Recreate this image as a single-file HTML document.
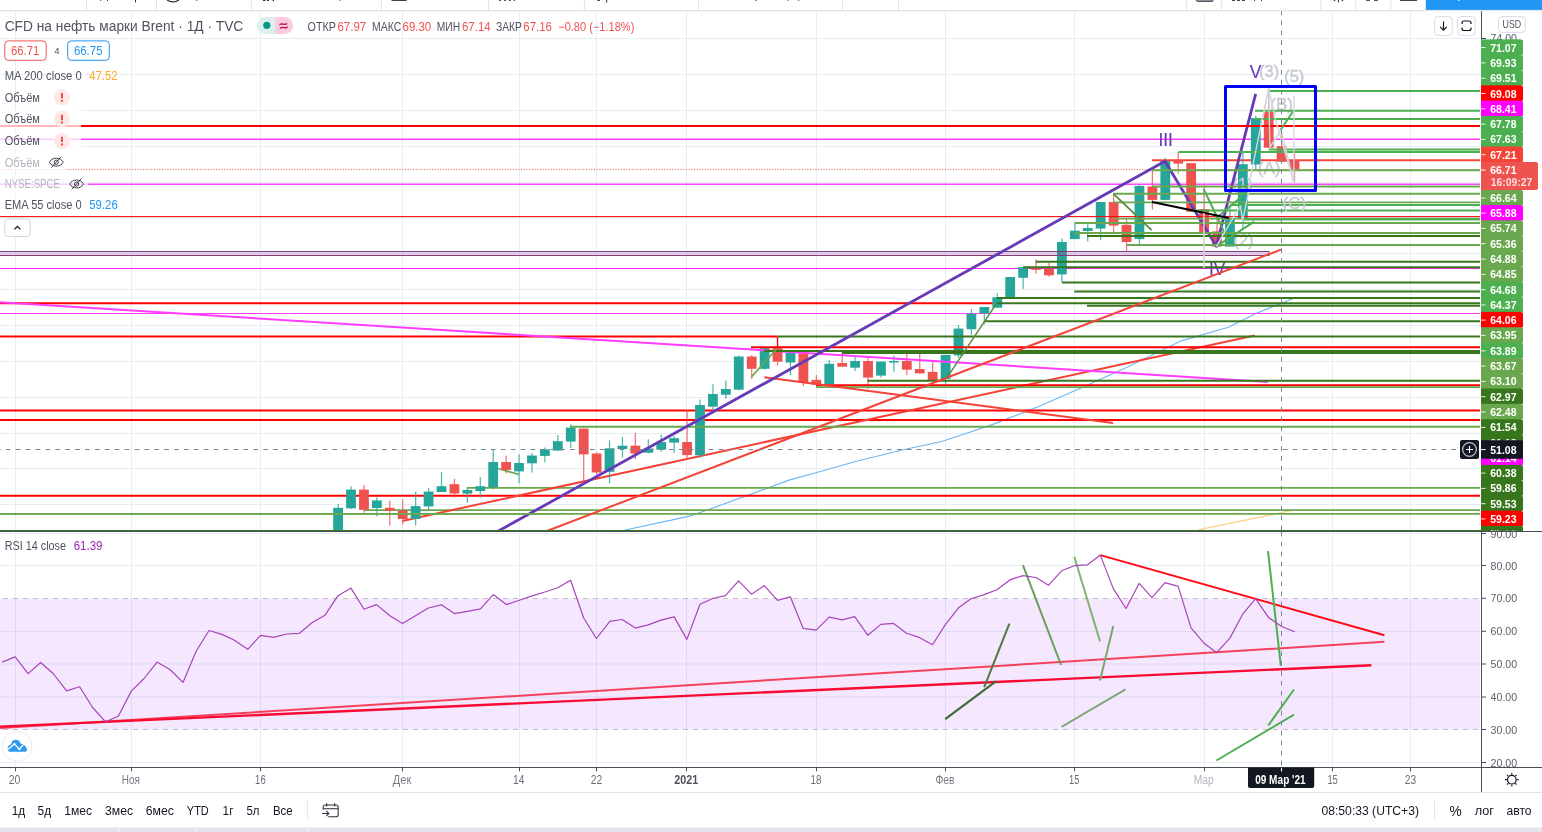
<!DOCTYPE html>
<html lang="ru"><head><meta charset="utf-8"><title>CFD на нефть марки Brent</title>
<style>html,body{margin:0;padding:0;background:#fff;overflow:hidden}body{width:1542px;height:832px}svg{display:block;position:absolute;left:0;top:0}text{white-space:pre}</style>
</head><body>
<svg width="1542" height="832" viewBox="0 0 1542 832" font-family='"Liberation Sans", "DejaVu Sans", sans-serif' shape-rendering="auto">
<defs><clipPath id="cm"><rect x="0" y="11" width="1480" height="520"/></clipPath><clipPath id="cr"><rect x="0" y="532" width="1480" height="235"/></clipPath><clipPath id="ca"><rect x="1481" y="11" width="61" height="520"/></clipPath></defs>
<rect x="0" y="0" width="1542" height="832" fill="#ffffff"/>
<g clip-path="url(#cm)">
<line x1="15.5" y1="11" x2="15.5" y2="531" stroke="#e6eef4" stroke-width="1"/>
<line x1="131.5" y1="11" x2="131.5" y2="531" stroke="#e6eef4" stroke-width="1"/>
<line x1="260.5" y1="11" x2="260.5" y2="531" stroke="#e6eef4" stroke-width="1"/>
<line x1="402.5" y1="11" x2="402.5" y2="531" stroke="#e6eef4" stroke-width="1"/>
<line x1="519.5" y1="11" x2="519.5" y2="531" stroke="#e6eef4" stroke-width="1"/>
<line x1="596.5" y1="11" x2="596.5" y2="531" stroke="#e6eef4" stroke-width="1"/>
<line x1="686.5" y1="11" x2="686.5" y2="531" stroke="#e6eef4" stroke-width="1"/>
<line x1="816.5" y1="11" x2="816.5" y2="531" stroke="#e6eef4" stroke-width="1"/>
<line x1="945.5" y1="11" x2="945.5" y2="531" stroke="#e6eef4" stroke-width="1"/>
<line x1="1074.5" y1="11" x2="1074.5" y2="531" stroke="#e6eef4" stroke-width="1"/>
<line x1="1204.5" y1="11" x2="1204.5" y2="531" stroke="#e6eef4" stroke-width="1"/>
<line x1="1332.5" y1="11" x2="1332.5" y2="531" stroke="#e6eef4" stroke-width="1"/>
<line x1="1410.5" y1="11" x2="1410.5" y2="531" stroke="#e6eef4" stroke-width="1"/>
<line x1="0" y1="38.5" x2="1480" y2="38.5" stroke="#e6eef4" stroke-width="1"/>
<line x1="0" y1="74.5" x2="1480" y2="74.5" stroke="#e6eef4" stroke-width="1"/>
<line x1="0" y1="110.5" x2="1480" y2="110.5" stroke="#e6eef4" stroke-width="1"/>
<line x1="0" y1="146.5" x2="1480" y2="146.5" stroke="#e6eef4" stroke-width="1"/>
<line x1="0" y1="182.5" x2="1480" y2="182.5" stroke="#e6eef4" stroke-width="1"/>
<line x1="0" y1="217.5" x2="1480" y2="217.5" stroke="#e6eef4" stroke-width="1"/>
<line x1="0" y1="253.5" x2="1480" y2="253.5" stroke="#e6eef4" stroke-width="1"/>
<line x1="0" y1="289.5" x2="1480" y2="289.5" stroke="#e6eef4" stroke-width="1"/>
<line x1="0" y1="325.5" x2="1480" y2="325.5" stroke="#e6eef4" stroke-width="1"/>
<line x1="0" y1="361.5" x2="1480" y2="361.5" stroke="#e6eef4" stroke-width="1"/>
<line x1="0" y1="397.5" x2="1480" y2="397.5" stroke="#e6eef4" stroke-width="1"/>
<line x1="0" y1="433.5" x2="1480" y2="433.5" stroke="#e6eef4" stroke-width="1"/>
<line x1="0" y1="468.5" x2="1480" y2="468.5" stroke="#e6eef4" stroke-width="1"/>
<line x1="0" y1="504.5" x2="1480" y2="504.5" stroke="#e6eef4" stroke-width="1"/>
<polyline points="622.9,530.5 688.6,516.3 703.8,511.3 789.8,479.9 816.8,472.5 857.3,461 904.5,449.5 941.6,441.5 965.2,433.7 992.2,424.6 1040,406 1090.5,383.8 1127.5,367 1181.3,340.8 1228.4,327.3 1255.3,313.8 1292.4,298.7" fill="none" stroke="#6cb8f5" stroke-width="1.2"/>
<polyline points="1198.1,529.9 1241.9,520.8 1294,510" fill="none" stroke="#ffcf8a" stroke-width="1.2"/>
<line x1="0" y1="169.5" x2="1480" y2="169.5" stroke="#ef5350" stroke-width="1" stroke-dasharray="1 1.7"/>
<line x1="1152" y1="160.2" x2="1480" y2="160.2" stroke="#f44336" stroke-width="2"/>
<line x1="0" y1="139.25" x2="1480" y2="139.25" stroke="#ff3cff" stroke-width="1.3"/>
<line x1="0" y1="184.25" x2="1480" y2="184.25" stroke="#ff48ff" stroke-width="1.5"/>
<line x1="0" y1="268.5" x2="1480" y2="268.5" stroke="#ff1cff" stroke-width="1.2"/>
<line x1="0" y1="303.3" x2="996.5" y2="303.3" stroke="#ff0000" stroke-width="2"/>
<line x1="0" y1="313.5" x2="1480" y2="313.5" stroke="#ff3cff" stroke-width="1.2"/>
<line x1="0" y1="336.6" x2="777.5" y2="336.6" stroke="#ff0000" stroke-width="2"/>
<line x1="0" y1="410.4" x2="1480" y2="410.4" stroke="#ff0000" stroke-width="2"/>
<line x1="0" y1="420" x2="1480" y2="420" stroke="#ff0000" stroke-width="2"/>
<line x1="0" y1="495.8" x2="1480" y2="495.8" stroke="#ff0000" stroke-width="2"/>
<line x1="467" y1="487.9" x2="1480" y2="487.9" stroke="#6aa84f" stroke-width="1.8"/>
<line x1="364" y1="510.2" x2="1480" y2="510.2" stroke="#6aa84f" stroke-width="1.8"/>
<line x1="402.3" y1="520.9" x2="1254.7" y2="335.4" stroke="#f44336" stroke-width="2"/>
<line x1="497.9" y1="468.5" x2="518.6" y2="474.4" stroke="#6aa84f" stroke-width="1.8"/>
<g>
<line x1="338.1" y1="504" x2="338.1" y2="531" stroke="#26a69a" stroke-width="1.25" stroke-opacity="0.8"/>
<rect x="333.2" y="507.8" width="9.8" height="23.2" fill="#26a69a"/>
<line x1="351.03" y1="486.2" x2="351.03" y2="509" stroke="#26a69a" stroke-width="1.25" stroke-opacity="0.8"/>
<rect x="346.13" y="489.6" width="9.8" height="18.7" fill="#26a69a"/>
<line x1="363.95" y1="485" x2="363.95" y2="512.8" stroke="#ef5350" stroke-width="1.25" stroke-opacity="0.8"/>
<rect x="359.05" y="489.6" width="9.8" height="20.2" fill="#ef5350"/>
<line x1="376.88" y1="497.2" x2="376.88" y2="516.6" stroke="#26a69a" stroke-width="1.25" stroke-opacity="0.8"/>
<rect x="371.98" y="500.4" width="9.8" height="7.6" fill="#26a69a"/>
<line x1="389.8" y1="500.5" x2="389.8" y2="525.5" stroke="#ef5350" stroke-width="1.25" stroke-opacity="0.8"/>
<rect x="384.9" y="507.8" width="9.8" height="2.9" fill="#ef5350"/>
<line x1="402.73" y1="499.4" x2="402.73" y2="524.7" stroke="#ef5350" stroke-width="1.25" stroke-opacity="0.8"/>
<rect x="397.83" y="510.5" width="9.8" height="8.5" fill="#ef5350"/>
<line x1="415.65" y1="491.6" x2="415.65" y2="525.5" stroke="#26a69a" stroke-width="1.25" stroke-opacity="0.8"/>
<rect x="410.75" y="506.1" width="9.8" height="12.7" fill="#26a69a"/>
<line x1="428.58" y1="487.9" x2="428.58" y2="509.8" stroke="#26a69a" stroke-width="1.25" stroke-opacity="0.8"/>
<rect x="423.68" y="491.6" width="9.8" height="14.8" fill="#26a69a"/>
<line x1="441.5" y1="472" x2="441.5" y2="492" stroke="#26a69a" stroke-width="1.25" stroke-opacity="0.8"/>
<rect x="436.6" y="486.2" width="9.8" height="5.8" fill="#26a69a"/>
<line x1="454.43" y1="478.8" x2="454.43" y2="497.7" stroke="#ef5350" stroke-width="1.25" stroke-opacity="0.8"/>
<rect x="449.53" y="484.2" width="9.8" height="9.3" fill="#ef5350"/>
<line x1="467.35" y1="487.6" x2="467.35" y2="502.7" stroke="#26a69a" stroke-width="1.25" stroke-opacity="0.8"/>
<rect x="462.45" y="490" width="9.8" height="3.6" fill="#26a69a"/>
<line x1="480.28" y1="477.1" x2="480.28" y2="497.7" stroke="#26a69a" stroke-width="1.25" stroke-opacity="0.8"/>
<rect x="475.38" y="486.2" width="9.8" height="4.8" fill="#26a69a"/>
<line x1="493.2" y1="449.6" x2="493.2" y2="489.2" stroke="#26a69a" stroke-width="1.25" stroke-opacity="0.8"/>
<rect x="488.3" y="462" width="9.8" height="25.2" fill="#26a69a"/>
<line x1="506.12" y1="455.5" x2="506.12" y2="473.2" stroke="#ef5350" stroke-width="1.25" stroke-opacity="0.8"/>
<rect x="501.23" y="462" width="9.8" height="7.9" fill="#ef5350"/>
<line x1="519.05" y1="454.3" x2="519.05" y2="483.3" stroke="#26a69a" stroke-width="1.25" stroke-opacity="0.8"/>
<rect x="514.15" y="463" width="9.8" height="8.4" fill="#26a69a"/>
<line x1="531.98" y1="453" x2="531.98" y2="472.4" stroke="#26a69a" stroke-width="1.25" stroke-opacity="0.8"/>
<rect x="527.08" y="455.5" width="9.8" height="7.8" fill="#26a69a"/>
<line x1="544.9" y1="447.4" x2="544.9" y2="462.6" stroke="#26a69a" stroke-width="1.25" stroke-opacity="0.8"/>
<rect x="540" y="449.3" width="9.8" height="6.6" fill="#26a69a"/>
<line x1="557.83" y1="435" x2="557.83" y2="450.6" stroke="#26a69a" stroke-width="1.25" stroke-opacity="0.8"/>
<rect x="552.93" y="441.2" width="9.8" height="9.4" fill="#26a69a"/>
<line x1="570.75" y1="424.2" x2="570.75" y2="448" stroke="#26a69a" stroke-width="1.25" stroke-opacity="0.8"/>
<rect x="565.85" y="427.6" width="9.8" height="14" fill="#26a69a"/>
<line x1="583.68" y1="428.6" x2="583.68" y2="481" stroke="#ef5350" stroke-width="1.25" stroke-opacity="0.8"/>
<rect x="578.78" y="428.6" width="9.8" height="25.8" fill="#ef5350"/>
<line x1="596.6" y1="452.4" x2="596.6" y2="474.6" stroke="#ef5350" stroke-width="1.25" stroke-opacity="0.8"/>
<rect x="591.7" y="453.5" width="9.8" height="19" fill="#ef5350"/>
<line x1="609.53" y1="440.4" x2="609.53" y2="483.3" stroke="#26a69a" stroke-width="1.25" stroke-opacity="0.8"/>
<rect x="604.63" y="448.3" width="9.8" height="23.5" fill="#26a69a"/>
<line x1="622.45" y1="437" x2="622.45" y2="457.8" stroke="#26a69a" stroke-width="1.25" stroke-opacity="0.8"/>
<rect x="617.55" y="445.7" width="9.8" height="3.3" fill="#26a69a"/>
<line x1="635.38" y1="432.8" x2="635.38" y2="459" stroke="#ef5350" stroke-width="1.25" stroke-opacity="0.8"/>
<rect x="630.48" y="445.7" width="9.8" height="7.9" fill="#ef5350"/>
<line x1="648.3" y1="439.3" x2="648.3" y2="453.6" stroke="#26a69a" stroke-width="1.25" stroke-opacity="0.8"/>
<rect x="643.4" y="448.4" width="9.8" height="4.3" fill="#26a69a"/>
<line x1="661.23" y1="434.5" x2="661.23" y2="451.7" stroke="#26a69a" stroke-width="1.25" stroke-opacity="0.8"/>
<rect x="656.33" y="442" width="9.8" height="7.7" fill="#26a69a"/>
<line x1="674.15" y1="435.9" x2="674.15" y2="452.7" stroke="#26a69a" stroke-width="1.25" stroke-opacity="0.8"/>
<rect x="669.25" y="438.2" width="9.8" height="4.4" fill="#26a69a"/>
<line x1="687.08" y1="410" x2="687.08" y2="459" stroke="#ef5350" stroke-width="1.25" stroke-opacity="0.8"/>
<rect x="682.18" y="442" width="9.8" height="13.1" fill="#ef5350"/>
<line x1="700" y1="399.5" x2="700" y2="457.8" stroke="#26a69a" stroke-width="1.25" stroke-opacity="0.8"/>
<rect x="695.1" y="405" width="9.8" height="50.3" fill="#26a69a"/>
<line x1="712.93" y1="384.3" x2="712.93" y2="410.6" stroke="#26a69a" stroke-width="1.25" stroke-opacity="0.8"/>
<rect x="708.03" y="394" width="9.8" height="12.7" fill="#26a69a"/>
<line x1="725.85" y1="380.6" x2="725.85" y2="398.8" stroke="#26a69a" stroke-width="1.25" stroke-opacity="0.8"/>
<rect x="720.95" y="389" width="9.8" height="5.7" fill="#26a69a"/>
<line x1="738.78" y1="355.6" x2="738.78" y2="390.4" stroke="#26a69a" stroke-width="1.25" stroke-opacity="0.8"/>
<rect x="733.88" y="356.5" width="9.8" height="33.2" fill="#26a69a"/>
<line x1="751.7" y1="355.3" x2="751.7" y2="378.9" stroke="#ef5350" stroke-width="1.25" stroke-opacity="0.8"/>
<rect x="746.8" y="356.5" width="9.8" height="12.3" fill="#ef5350"/>
<line x1="764.62" y1="348.2" x2="764.62" y2="369.8" stroke="#26a69a" stroke-width="1.25" stroke-opacity="0.8"/>
<rect x="759.73" y="348.2" width="9.8" height="20.6" fill="#26a69a"/>
<line x1="777.55" y1="336.7" x2="777.55" y2="365.7" stroke="#ef5350" stroke-width="1.25" stroke-opacity="0.8"/>
<rect x="772.65" y="348.2" width="9.8" height="13.5" fill="#ef5350"/>
<line x1="790.48" y1="352.8" x2="790.48" y2="375.2" stroke="#26a69a" stroke-width="1.25" stroke-opacity="0.8"/>
<rect x="785.58" y="352.8" width="9.8" height="9.7" fill="#26a69a"/>
<line x1="803.4" y1="353.4" x2="803.4" y2="386" stroke="#ef5350" stroke-width="1.25" stroke-opacity="0.8"/>
<rect x="798.5" y="353.4" width="9.8" height="29.1" fill="#ef5350"/>
<line x1="816.33" y1="375.1" x2="816.33" y2="384.5" stroke="#ef5350" stroke-width="1.25" stroke-opacity="0.8"/>
<rect x="811.43" y="379.9" width="9.8" height="4.6" fill="#ef5350"/>
<line x1="829.25" y1="360" x2="829.25" y2="384.4" stroke="#26a69a" stroke-width="1.25" stroke-opacity="0.8"/>
<rect x="824.35" y="363.8" width="9.8" height="20.6" fill="#26a69a"/>
<line x1="842.18" y1="352" x2="842.18" y2="366.7" stroke="#ef5350" stroke-width="1.25" stroke-opacity="0.8"/>
<rect x="837.28" y="363" width="9.8" height="3.7" fill="#ef5350"/>
<line x1="855.1" y1="357" x2="855.1" y2="370.9" stroke="#26a69a" stroke-width="1.25" stroke-opacity="0.8"/>
<rect x="850.2" y="361" width="9.8" height="6.7" fill="#26a69a"/>
<line x1="868.03" y1="356.6" x2="868.03" y2="389" stroke="#ef5350" stroke-width="1.25" stroke-opacity="0.8"/>
<rect x="863.13" y="361" width="9.8" height="16.6" fill="#ef5350"/>
<line x1="880.95" y1="361.6" x2="880.95" y2="377.6" stroke="#26a69a" stroke-width="1.25" stroke-opacity="0.8"/>
<rect x="876.05" y="361.6" width="9.8" height="14" fill="#26a69a"/>
<line x1="893.88" y1="355.4" x2="893.88" y2="371.7" stroke="#26a69a" stroke-width="1.25" stroke-opacity="0.8"/>
<rect x="888.98" y="361" width="9.8" height="1.5" fill="#26a69a"/>
<line x1="906.8" y1="353.2" x2="906.8" y2="375.1" stroke="#ef5350" stroke-width="1.25" stroke-opacity="0.8"/>
<rect x="901.9" y="361" width="9.8" height="8.7" fill="#ef5350"/>
<line x1="919.73" y1="353.2" x2="919.73" y2="373.4" stroke="#ef5350" stroke-width="1.25" stroke-opacity="0.8"/>
<rect x="914.83" y="369" width="9.8" height="4.4" fill="#ef5350"/>
<line x1="932.65" y1="361.3" x2="932.65" y2="380.2" stroke="#ef5350" stroke-width="1.25" stroke-opacity="0.8"/>
<rect x="927.75" y="371.9" width="9.8" height="8.3" fill="#ef5350"/>
<line x1="945.58" y1="354.9" x2="945.58" y2="384" stroke="#26a69a" stroke-width="1.25" stroke-opacity="0.8"/>
<rect x="940.68" y="354.9" width="9.8" height="24.1" fill="#26a69a"/>
<line x1="958.5" y1="325" x2="958.5" y2="357.9" stroke="#26a69a" stroke-width="1.25" stroke-opacity="0.8"/>
<rect x="953.6" y="328.6" width="9.8" height="26.8" fill="#26a69a"/>
<line x1="971.43" y1="309" x2="971.43" y2="334.6" stroke="#26a69a" stroke-width="1.25" stroke-opacity="0.8"/>
<rect x="966.53" y="313.7" width="9.8" height="15.5" fill="#26a69a"/>
<line x1="984.35" y1="307" x2="984.35" y2="324.2" stroke="#26a69a" stroke-width="1.25" stroke-opacity="0.8"/>
<rect x="979.45" y="307" width="9.8" height="6.4" fill="#26a69a"/>
<line x1="997.28" y1="293.2" x2="997.28" y2="307.7" stroke="#26a69a" stroke-width="1.25" stroke-opacity="0.8"/>
<rect x="992.38" y="297.2" width="9.8" height="10.5" fill="#26a69a"/>
<rect x="1005.3" y="277" width="9.8" height="20.2" fill="#26a69a"/>
<line x1="1023.13" y1="267.2" x2="1023.13" y2="289.1" stroke="#26a69a" stroke-width="1.25" stroke-opacity="0.8"/>
<rect x="1018.23" y="267.2" width="9.8" height="10.6" fill="#26a69a"/>
<line x1="1036.05" y1="259.3" x2="1036.05" y2="273.6" stroke="#ef5350" stroke-width="1.25" stroke-opacity="0.8"/>
<rect x="1031.15" y="268.2" width="9.8" height="1.7" fill="#ef5350"/>
<line x1="1048.97" y1="262.8" x2="1048.97" y2="276.6" stroke="#ef5350" stroke-width="1.25" stroke-opacity="0.8"/>
<rect x="1044.07" y="268.7" width="9.8" height="6.6" fill="#ef5350"/>
<line x1="1061.9" y1="238.6" x2="1061.9" y2="282.5" stroke="#26a69a" stroke-width="1.25" stroke-opacity="0.8"/>
<rect x="1057" y="242" width="9.8" height="32.4" fill="#26a69a"/>
<line x1="1074.83" y1="223.8" x2="1074.83" y2="239.1" stroke="#26a69a" stroke-width="1.25" stroke-opacity="0.8"/>
<rect x="1069.92" y="230.7" width="9.8" height="8.4" fill="#26a69a"/>
<line x1="1087.75" y1="224.3" x2="1087.75" y2="241.2" stroke="#26a69a" stroke-width="1.25" stroke-opacity="0.8"/>
<rect x="1082.85" y="228" width="9.8" height="3" fill="#26a69a"/>
<line x1="1100.68" y1="202" x2="1100.68" y2="240.3" stroke="#26a69a" stroke-width="1.25" stroke-opacity="0.8"/>
<rect x="1095.78" y="202" width="9.8" height="26.5" fill="#26a69a"/>
<line x1="1113.6" y1="193.6" x2="1113.6" y2="232.4" stroke="#ef5350" stroke-width="1.25" stroke-opacity="0.8"/>
<rect x="1108.7" y="202" width="9.8" height="23.6" fill="#ef5350"/>
<line x1="1126.53" y1="219.2" x2="1126.53" y2="251.3" stroke="#ef5350" stroke-width="1.25" stroke-opacity="0.8"/>
<rect x="1121.62" y="224.8" width="9.8" height="17.2" fill="#ef5350"/>
<line x1="1139.45" y1="184.7" x2="1139.45" y2="244.2" stroke="#26a69a" stroke-width="1.25" stroke-opacity="0.8"/>
<rect x="1134.55" y="185.9" width="9.8" height="53.2" fill="#26a69a"/>
<line x1="1152.38" y1="170.3" x2="1152.38" y2="209.6" stroke="#ef5350" stroke-width="1.25" stroke-opacity="0.8"/>
<rect x="1147.47" y="186.4" width="9.8" height="13.5" fill="#ef5350"/>
<line x1="1165.3" y1="157.7" x2="1165.3" y2="199.9" stroke="#26a69a" stroke-width="1.25" stroke-opacity="0.8"/>
<rect x="1160.4" y="161" width="9.8" height="38.9" fill="#26a69a"/>
<line x1="1178.22" y1="152.1" x2="1178.22" y2="173.7" stroke="#ef5350" stroke-width="1.25" stroke-opacity="0.8"/>
<rect x="1173.32" y="160.2" width="9.8" height="3.4" fill="#ef5350"/>
<rect x="1186.25" y="163.1" width="9.8" height="48.6" fill="#ef5350"/>
<line x1="1204.08" y1="184.7" x2="1204.08" y2="232.7" stroke="#ef5350" stroke-width="1.25" stroke-opacity="0.8"/>
<rect x="1199.17" y="209.1" width="9.8" height="23.6" fill="#ef5350"/>
<line x1="1217" y1="219.2" x2="1217" y2="246.6" stroke="#ef5350" stroke-width="1.25" stroke-opacity="0.8"/>
<rect x="1212.1" y="231.4" width="9.8" height="15.2" fill="#ef5350"/>
<line x1="1229.93" y1="204.9" x2="1229.93" y2="246.6" stroke="#26a69a" stroke-width="1.25" stroke-opacity="0.8"/>
<rect x="1225.03" y="219.2" width="9.8" height="27.4" fill="#26a69a"/>
<line x1="1242.85" y1="151" x2="1242.85" y2="228.5" stroke="#26a69a" stroke-width="1.25" stroke-opacity="0.8"/>
<rect x="1237.95" y="164.2" width="9.8" height="55" fill="#26a69a"/>
<line x1="1255.78" y1="116.1" x2="1255.78" y2="169.3" stroke="#26a69a" stroke-width="1.25" stroke-opacity="0.8"/>
<rect x="1250.88" y="118.1" width="9.8" height="46.4" fill="#26a69a"/>
<line x1="1268.7" y1="88.4" x2="1268.7" y2="147.7" stroke="#ef5350" stroke-width="1.25" stroke-opacity="0.8"/>
<rect x="1263.8" y="111.8" width="9.8" height="35.9" fill="#ef5350"/>
<line x1="1281.62" y1="134" x2="1281.62" y2="162.1" stroke="#ef5350" stroke-width="1.25" stroke-opacity="0.8"/>
<rect x="1276.72" y="146.2" width="9.8" height="15.6" fill="#ef5350"/>
<line x1="1294.55" y1="149.3" x2="1294.55" y2="183" stroke="#ef5350" stroke-width="1.25" stroke-opacity="0.8"/>
<rect x="1289.65" y="160" width="9.8" height="9.5" fill="#ef5350"/>
</g>
<line x1="0" y1="302.2" x2="1268" y2="382" stroke="#ff3cff" stroke-width="2"/>
<text x="1165.7" y="146.4" font-size="17.5" fill="#673ab7" text-anchor="middle" stroke="#673ab7" stroke-width="0.15">III</text>
<text x="1255.5" y="78.4" font-size="17.5" fill="#673ab7" text-anchor="middle" stroke="#673ab7" stroke-width="0.15">V</text>
<text x="1217.2" y="274.7" font-size="17.5" fill="#673ab7" text-anchor="middle" stroke="#673ab7" stroke-width="0.15">IV</text>
<text x="1269.2" y="76.9" font-size="16.5" fill="#c6c9d5" text-anchor="middle" stroke="#c6c9d5" stroke-width="0.4">(3)</text>
<text x="1294.3" y="82" font-size="16.5" fill="#c6c9d5" text-anchor="middle" stroke="#c6c9d5" stroke-width="0.4">(5)</text>
<text x="1281.7" y="110.3" font-size="17" fill="#c6c9d5" text-anchor="middle" stroke="#c6c9d5" stroke-width="0.4">(B)</text>
<text x="1269.2" y="174" font-size="17" fill="#c6c9d5" text-anchor="middle" stroke="#c6c9d5" stroke-width="0.4">(A)</text>
<text x="1242.5" y="190" font-size="16.5" fill="#c6c9d5" text-anchor="middle" stroke="#c6c9d5" stroke-width="0.4">(1)</text>
<text x="1243.5" y="245.9" font-size="16.5" fill="#c6c9d5" text-anchor="middle" stroke="#c6c9d5" stroke-width="0.4">(2)</text>
<polyline points="1164.6,161.5 1165,161.3 1216.3,246.2 1255.7,93.8" fill="none" stroke="#673ab7" stroke-width="2.8" stroke-linejoin="round"/>
<rect x="-2" y="251.5" width="1271" height="4" fill="#9c27b0" fill-opacity="0.22" stroke="#7f4073" stroke-width="1"/>
<line x1="0" y1="513.8" x2="1480" y2="513.8" stroke="#6aa84f" stroke-width="1.8"/>
<line x1="1269" y1="91" x2="1480" y2="91" stroke="#4caf50" stroke-width="2"/>
<line x1="1255" y1="110.8" x2="1480" y2="110.8" stroke="#4caf50" stroke-width="2"/>
<line x1="1255" y1="118.9" x2="1480" y2="118.9" stroke="#4caf50" stroke-width="2"/>
<line x1="1268.8" y1="149.4" x2="1480" y2="149.4" stroke="#4caf50" stroke-width="2"/>
<line x1="1178.3" y1="152" x2="1480" y2="152" stroke="#4caf50" stroke-width="2"/>
<line x1="0" y1="126" x2="1480" y2="126" stroke="#ff0000" stroke-width="2"/>
<line x1="1152" y1="170.2" x2="1480" y2="170.2" stroke="#6aa84f" stroke-width="2"/>
<line x1="1152" y1="186.5" x2="1480" y2="186.5" stroke="#6aa84f" stroke-width="2"/>
<line x1="1113.3" y1="193.7" x2="1480" y2="193.7" stroke="#6aa84f" stroke-width="2"/>
<line x1="1113.3" y1="202.3" x2="1480" y2="202.3" stroke="#6aa84f" stroke-width="1.8"/>
<line x1="1230" y1="204.9" x2="1480" y2="204.9" stroke="#4caf50" stroke-width="2"/>
<line x1="1190" y1="210.6" x2="1480" y2="210.6" stroke="#4caf50" stroke-width="2"/>
<line x1="0" y1="216.6" x2="1480" y2="216.6" stroke="#ff0000" stroke-width="1"/>
<line x1="1113" y1="218.7" x2="1480" y2="218.7" stroke="#6aa84f" stroke-width="1.8"/>
<line x1="1243" y1="219.6" x2="1480" y2="219.6" stroke="#4caf50" stroke-width="2"/>
<line x1="1074.5" y1="223.1" x2="1480" y2="223.1" stroke="#6aa84f" stroke-width="2"/>
<line x1="1074.5" y1="232.9" x2="1480" y2="232.9" stroke="#6aa84f" stroke-width="2"/>
<line x1="1087" y1="235.9" x2="1480" y2="235.9" stroke="#38761d" stroke-width="2"/>
<line x1="1126.7" y1="244.9" x2="1480" y2="244.9" stroke="#6aa84f" stroke-width="2"/>
<line x1="1035.7" y1="261.8" x2="1480" y2="261.8" stroke="#38761d" stroke-width="2"/>
<line x1="1023" y1="267.2" x2="1480" y2="267.2" stroke="#38761d" stroke-width="2"/>
<line x1="1062" y1="282.6" x2="1480" y2="282.6" stroke="#38761d" stroke-width="2"/>
<line x1="1074.3" y1="291.6" x2="1480" y2="291.6" stroke="#38761d" stroke-width="2"/>
<line x1="997" y1="297.9" x2="1480" y2="297.9" stroke="#38761d" stroke-width="2"/>
<line x1="996.5" y1="303.3" x2="1480" y2="303.3" stroke="#38761d" stroke-width="2"/>
<line x1="1087" y1="305.8" x2="1480" y2="305.8" stroke="#38761d" stroke-width="2"/>
<line x1="984.6" y1="321.3" x2="1480" y2="321.3" stroke="#38761d" stroke-width="2"/>
<line x1="777.5" y1="336.6" x2="1480" y2="336.6" stroke="#38761d" stroke-width="2"/>
<line x1="751" y1="347.3" x2="1480" y2="347.3" stroke="#ff0000" stroke-width="2"/>
<line x1="764" y1="350.9" x2="1480" y2="350.9" stroke="#38761d" stroke-width="2"/>
<line x1="842.1" y1="352.8" x2="1480" y2="352.8" stroke="#38761d" stroke-width="2.2"/>
<line x1="867.5" y1="380.8" x2="1480" y2="380.8" stroke="#38761d" stroke-width="2"/>
<line x1="816" y1="385.2" x2="1480" y2="385.2" stroke="#ff0000" stroke-width="2"/>
<line x1="816" y1="387.1" x2="1480" y2="387.1" stroke="#6aa84f" stroke-width="1.6"/>
<line x1="570" y1="426.8" x2="1480" y2="426.8" stroke="#6aa84f" stroke-width="2"/>
<line x1="547" y1="531" x2="1281" y2="249.6" stroke="#f44336" stroke-width="2"/>
<line x1="764.4" y1="377.2" x2="1113" y2="423" stroke="#f44336" stroke-width="2"/>
<line x1="751.4" y1="376.9" x2="776.7" y2="348.9" stroke="#6aa84f" stroke-width="1.6"/>
<line x1="777.5" y1="336.7" x2="777.5" y2="348.2" stroke="#ff0000" stroke-width="1.2"/>
<line x1="946.7" y1="378.1" x2="996.4" y2="303.6" stroke="#5b8c3a" stroke-width="1.5"/>
<line x1="1113.3" y1="193.6" x2="1151.6" y2="230.2" stroke="#5b8c3a" stroke-width="1.8"/>
<polyline points="1203.6,188.9 1218.2,219.2 1228.5,242" fill="none" stroke="#4caf50" stroke-width="2"/>
<line x1="1216.3" y1="246.4" x2="1254.2" y2="221.6" stroke="#4caf50" stroke-width="2"/>
<line x1="1216.3" y1="218.2" x2="1242.5" y2="195.8" stroke="#4caf50" stroke-width="2"/>
<line x1="1293.1" y1="111.3" x2="1280.5" y2="130" stroke="#4caf50" stroke-width="2"/>
<line x1="496.6" y1="532" x2="1165" y2="161.3" stroke="#673ab7" stroke-width="2.8"/>
<line x1="0" y1="513.8" x2="560" y2="513.8" stroke="#6aa84f" stroke-width="1.8"/>
<line x1="1152.1" y1="202" x2="1228.8" y2="217.9" stroke="#000000" stroke-width="2"/>
<line x1="1203.9" y1="213" x2="1203.9" y2="268" stroke="#d3d6de" stroke-width="1.5"/>
<polyline points="1216.3,246.4 1235.7,213.3 1240.6,206 1242.5,221.1 1248.4,193 1250.3,178.4 1262,120 1268.6,88.4 1275.6,120 1294.1,183.2" fill="none" stroke="#d3d6de" stroke-width="1.4" stroke-linejoin="round"/>
<polyline points="1263,118 1268.6,88.4 1270,147 1281,130 1294,183" fill="none" stroke="#d3d6de" stroke-width="1.4" stroke-linejoin="round"/>
<line x1="1293.9" y1="95.7" x2="1293.9" y2="183.2" stroke="#d3d6de" stroke-width="1.3"/>
<line x1="-4.06" y1="449.5" x2="1460" y2="449.5" stroke="#758696" stroke-width="1" stroke-dasharray="4.7 5.2"/>
<line x1="1281.5" y1="10.6" x2="1281.5" y2="531" stroke="#758696" stroke-width="1" stroke-dasharray="4.7 5.2"/>
<text x="1294.3" y="209" font-size="17" fill="#c6c9d5" text-anchor="middle" stroke="#c6c9d5" stroke-width="0.4">(C)</text>
<rect x="1225.5" y="86.4" width="90" height="104" fill="none" stroke="#0000ff" stroke-width="3" stroke-linejoin="round"/>
</g>
<line x1="0" y1="530.5" x2="1481" y2="530.5" stroke="#38761d" stroke-width="1"/>
<line x1="0" y1="531.5" x2="1542" y2="531.5" stroke="#4a4e5a" stroke-width="1"/>
<g clip-path="url(#cr)">
<rect x="0" y="598.5" width="1481" height="131" fill="#f4e7fe"/>
<line x1="15.5" y1="532" x2="15.5" y2="767" stroke="#e6eef4" stroke-width="1"/>
<line x1="131.5" y1="532" x2="131.5" y2="767" stroke="#e6eef4" stroke-width="1"/>
<line x1="260.5" y1="532" x2="260.5" y2="767" stroke="#e6eef4" stroke-width="1"/>
<line x1="402.5" y1="532" x2="402.5" y2="767" stroke="#e6eef4" stroke-width="1"/>
<line x1="519.5" y1="532" x2="519.5" y2="767" stroke="#e6eef4" stroke-width="1"/>
<line x1="596.5" y1="532" x2="596.5" y2="767" stroke="#e6eef4" stroke-width="1"/>
<line x1="686.5" y1="532" x2="686.5" y2="767" stroke="#e6eef4" stroke-width="1"/>
<line x1="816.5" y1="532" x2="816.5" y2="767" stroke="#e6eef4" stroke-width="1"/>
<line x1="945.5" y1="532" x2="945.5" y2="767" stroke="#e6eef4" stroke-width="1"/>
<line x1="1074.5" y1="532" x2="1074.5" y2="767" stroke="#e6eef4" stroke-width="1"/>
<line x1="1204.5" y1="532" x2="1204.5" y2="767" stroke="#e6eef4" stroke-width="1"/>
<line x1="1332.5" y1="532" x2="1332.5" y2="767" stroke="#e6eef4" stroke-width="1"/>
<line x1="1410.5" y1="532" x2="1410.5" y2="767" stroke="#e6eef4" stroke-width="1"/>
<line x1="0" y1="533.5" x2="1480" y2="533.5" stroke="#e6eef4" stroke-width="1"/>
<line x1="0" y1="565.5" x2="1480" y2="565.5" stroke="#e6eef4" stroke-width="1"/>
<line x1="0" y1="631.5" x2="1480" y2="631.5" stroke="#dcd8f5" stroke-width="1"/>
<line x1="0" y1="664" x2="1480" y2="664" stroke="#dcd8f5" stroke-width="1"/>
<line x1="0" y1="697" x2="1480" y2="697" stroke="#dcd8f5" stroke-width="1"/>
<line x1="0" y1="762.5" x2="1480" y2="762.5" stroke="#e6eef4" stroke-width="1"/>
<line x1="15.5" y1="598.5" x2="15.5" y2="729.5" stroke="#dcd8f5" stroke-width="1"/>
<line x1="131.5" y1="598.5" x2="131.5" y2="729.5" stroke="#dcd8f5" stroke-width="1"/>
<line x1="260.5" y1="598.5" x2="260.5" y2="729.5" stroke="#dcd8f5" stroke-width="1"/>
<line x1="402.5" y1="598.5" x2="402.5" y2="729.5" stroke="#dcd8f5" stroke-width="1"/>
<line x1="519.5" y1="598.5" x2="519.5" y2="729.5" stroke="#dcd8f5" stroke-width="1"/>
<line x1="596.5" y1="598.5" x2="596.5" y2="729.5" stroke="#dcd8f5" stroke-width="1"/>
<line x1="686.5" y1="598.5" x2="686.5" y2="729.5" stroke="#dcd8f5" stroke-width="1"/>
<line x1="816.5" y1="598.5" x2="816.5" y2="729.5" stroke="#dcd8f5" stroke-width="1"/>
<line x1="945.5" y1="598.5" x2="945.5" y2="729.5" stroke="#dcd8f5" stroke-width="1"/>
<line x1="1074.5" y1="598.5" x2="1074.5" y2="729.5" stroke="#dcd8f5" stroke-width="1"/>
<line x1="1204.5" y1="598.5" x2="1204.5" y2="729.5" stroke="#dcd8f5" stroke-width="1"/>
<line x1="1332.5" y1="598.5" x2="1332.5" y2="729.5" stroke="#dcd8f5" stroke-width="1"/>
<line x1="1410.5" y1="598.5" x2="1410.5" y2="729.5" stroke="#dcd8f5" stroke-width="1"/>
<line x1="-7.1" y1="598.5" x2="1481" y2="598.5" stroke="#c3bcc9" stroke-width="1" stroke-dasharray="5 5"/>
<line x1="-7.1" y1="729.5" x2="1481" y2="729.5" stroke="#c3bcc9" stroke-width="1" stroke-dasharray="5 5"/>
<line x1="0" y1="728.1" x2="1384.4" y2="641.8" stroke="#f4425a" stroke-width="2"/>
<line x1="0" y1="726.6" x2="1371.4" y2="665.2" stroke="#f80a32" stroke-width="2.4"/>
<line x1="1100.3" y1="555.1" x2="1384.4" y2="635.3" stroke="#ff0a14" stroke-width="2"/>
<line x1="945.2" y1="719.1" x2="996.2" y2="681.1" stroke="#3f6d38" stroke-width="2.2"/>
<line x1="984.2" y1="687.1" x2="1009.4" y2="623.7" stroke="#4d7a45" stroke-width="2"/>
<line x1="1022.9" y1="565.2" x2="1061.1" y2="665" stroke="#6a9f5a" stroke-width="2"/>
<line x1="1074.3" y1="556.8" x2="1100" y2="641.4" stroke="#7fb56e" stroke-width="2"/>
<line x1="1113.3" y1="626.1" x2="1100" y2="680.6" stroke="#7aa86c" stroke-width="2"/>
<line x1="1061.6" y1="726.8" x2="1125.5" y2="689.3" stroke="#82a87a" stroke-width="2"/>
<line x1="1268" y1="551.1" x2="1280.8" y2="665.7" stroke="#4caf50" stroke-width="2"/>
<line x1="1268.3" y1="725.4" x2="1294" y2="689.5" stroke="#4caf50" stroke-width="2"/>
<line x1="1216.4" y1="760.5" x2="1294" y2="714.6" stroke="#4caf50" stroke-width="2"/>
<polyline points="2.2,662.1 15.1,656.9 28.1,673.6 40.7,662.5 53.6,674 66.6,690.9 79.6,686.8 92.6,707.5 105.6,721.8 118.3,716.2 131.3,691.1 144.1,678.5 157,662.1 170.2,669.7 183,682.4 196,651.5 209,630.5 221.9,634.4 234,640 247.7,649.3 260.6,635.3 273.6,637.4 286.6,634 299.4,633.3 312.7,622.3 325,615.2 338,595.7 351,588.1 364,609.3 376.5,604.6 389.9,615.8 402.5,623.6 415.5,615.8 428.4,608 441.4,604.8 454.4,613.6 467.4,611.3 480.4,608.9 493.3,594.6 506.3,604.6 519.3,600.2 532.3,595.9 544.8,592 557.8,587.7 570.6,580.3 583.7,618 596.4,638.5 609.8,621.4 622.2,619.5 635.4,628.1 648.1,624.9 661.1,620.1 674.1,616.9 686.9,639.4 700,604.3 712.6,598.5 725.4,595.7 738.6,580.8 751.5,594.2 764.3,585.7 777.5,600.4 790.3,596.8 803.2,628.4 816.2,630.1 829.2,617.1 842.2,619.9 854.7,616.7 867.9,635.3 880.8,624.4 893.6,623.4 906.5,633.3 919.3,637.4 932.5,644.8 945.7,624.1 958.5,607.8 971,598.7 984.2,594.6 996.9,589.8 1009.9,579.9 1022.9,575.6 1035.9,577.5 1048.6,585.2 1061.6,570.8 1074.3,565.7 1087.5,564.8 1100.3,555.1 1113.3,588.6 1126,608.5 1139.2,583.3 1152,597.7 1165,582.6 1178.2,586.4 1191,627.9 1204.2,643.3 1216.6,652.7 1229.9,638.1 1242.9,613.8 1255.6,598.6 1268.6,617.6 1281.6,626.5 1294.6,631.7" fill="none" stroke="#a845ba" stroke-width="1.2" stroke-linejoin="round"/>
<line x1="1281.5" y1="531.7" x2="1281.5" y2="767" stroke="#758696" stroke-width="1" stroke-dasharray="4.75 5.2"/>
</g>
<text x="4.7" y="550.2" font-size="12" fill="#50535e" textLength="61.3" lengthAdjust="spacingAndGlyphs">RSI 14 close</text>
<text x="73.7" y="550.2" font-size="12" fill="#9c27b0" textLength="28.7" lengthAdjust="spacingAndGlyphs">61.39</text>
<circle cx="17.1" cy="746.2" r="14.9" fill="#ffffff" stroke="#ebebeb" stroke-width="1"/>
<path d="M9.6 751.8 H25.3 C27.6 751.8 27.7 747.4 24.8 746 C24.4 744 22 743.3 20.8 744.1 C20.4 741 17.5 739.6 15.4 739.8 C12.8 740 11.2 742 11.3 744.3 C9 744.6 7.6 746.5 7.7 748.5 C7.8 750.6 8.5 751.8 9.6 751.8 Z" fill="#2f9bee"/>
<polyline points="7.9,749.5 14.4,743.9 19.3,749.3 24.3,743.6" fill="none" stroke="#ffffff" stroke-width="1.3" stroke-linejoin="round"/>
<circle cx="14.4" cy="744" r="1.1" fill="#ffffff"/><circle cx="19.3" cy="749.2" r="1.1" fill="#ffffff"/>
<line x1="1481.5" y1="11" x2="1481.5" y2="792" stroke="#4a4e5a" stroke-width="1"/>
<line x1="1482" y1="38.5" x2="1486" y2="38.5" stroke="#4a4e5a" stroke-width="1"/>
<text x="1490.5" y="42.2" font-size="11.2" fill="#5d606b" textLength="26.5" lengthAdjust="spacingAndGlyphs">74.00</text>
<g clip-path="url(#ca)">
<rect x="1481" y="39.35" width="40" height="16.1" fill="#4caf50"/>
<path d="M1520 39.75 H1521.6 Q1523 39.75 1523 41.15 V53.65 Q1523 55.05 1521.6 55.05 H1520 Z" fill="#4caf50"/>
<rect x="1481" y="54.75" width="40" height="16.1" fill="#4caf50"/>
<path d="M1520 55.15 H1521.6 Q1523 55.15 1523 56.55 V69.05 Q1523 70.45 1521.6 70.45 H1520 Z" fill="#4caf50"/>
<rect x="1481" y="70.05" width="40" height="16.1" fill="#4caf50"/>
<path d="M1520 70.45 H1521.6 Q1523 70.45 1523 71.85 V84.35 Q1523 85.75 1521.6 85.75 H1520 Z" fill="#4caf50"/>
<rect x="1481" y="85.35" width="40" height="16.1" fill="#ff0000"/>
<path d="M1520 85.75 H1521.6 Q1523 85.75 1523 87.15 V99.65 Q1523 101.05 1521.6 101.05 H1520 Z" fill="#ff0000"/>
<rect x="1481" y="100.65" width="40" height="16.1" fill="#ff00ff"/>
<path d="M1520 101.05 H1521.6 Q1523 101.05 1523 102.45 V114.95 Q1523 116.35 1521.6 116.35 H1520 Z" fill="#ff00ff"/>
<rect x="1481" y="115.95" width="40" height="16.1" fill="#4caf50"/>
<path d="M1520 116.35 H1521.6 Q1523 116.35 1523 117.75 V130.25 Q1523 131.65 1521.6 131.65 H1520 Z" fill="#4caf50"/>
<rect x="1481" y="131.25" width="40" height="16.1" fill="#4caf50"/>
<path d="M1520 131.65 H1521.6 Q1523 131.65 1523 133.05 V145.55 Q1523 146.95 1521.6 146.95 H1520 Z" fill="#4caf50"/>
<rect x="1481" y="146.55" width="40" height="16.1" fill="#f44336"/>
<path d="M1520 146.95 H1521.6 Q1523 146.95 1523 148.35 V160.85 Q1523 162.25 1521.6 162.25 H1520 Z" fill="#f44336"/>
<rect x="1481" y="189.95" width="40" height="16.1" fill="#6aa84f"/>
<path d="M1520 190.35 H1521.6 Q1523 190.35 1523 191.75 V204.25 Q1523 205.65 1521.6 205.65 H1520 Z" fill="#6aa84f"/>
<rect x="1481" y="205.05" width="40" height="16.1" fill="#ff00ff"/>
<path d="M1520 205.45 H1521.6 Q1523 205.45 1523 206.85 V219.35 Q1523 220.75 1521.6 220.75 H1520 Z" fill="#ff00ff"/>
<rect x="1481" y="220.25" width="40" height="16.1" fill="#6aa84f"/>
<path d="M1520 220.65 H1521.6 Q1523 220.65 1523 222.05 V234.55 Q1523 235.95 1521.6 235.95 H1520 Z" fill="#6aa84f"/>
<rect x="1481" y="235.55" width="40" height="16.1" fill="#6aa84f"/>
<path d="M1520 235.95 H1521.6 Q1523 235.95 1523 237.35 V249.85 Q1523 251.25 1521.6 251.25 H1520 Z" fill="#6aa84f"/>
<rect x="1481" y="250.95" width="40" height="16.1" fill="#6aa84f"/>
<path d="M1520 251.35 H1521.6 Q1523 251.35 1523 252.75 V265.25 Q1523 266.65 1521.6 266.65 H1520 Z" fill="#6aa84f"/>
<rect x="1481" y="266.25" width="40" height="16.1" fill="#6aa84f"/>
<path d="M1520 266.65 H1521.6 Q1523 266.65 1523 268.05 V280.55 Q1523 281.95 1521.6 281.95 H1520 Z" fill="#6aa84f"/>
<rect x="1481" y="281.55" width="40" height="16.1" fill="#4caf50"/>
<path d="M1520 281.95 H1521.6 Q1523 281.95 1523 283.35 V295.85 Q1523 297.25 1521.6 297.25 H1520 Z" fill="#4caf50"/>
<rect x="1481" y="296.75" width="40" height="16.1" fill="#4caf50"/>
<path d="M1520 297.15 H1521.6 Q1523 297.15 1523 298.55 V311.05 Q1523 312.45 1521.6 312.45 H1520 Z" fill="#4caf50"/>
<rect x="1481" y="311.95" width="40" height="16.1" fill="#ff0000"/>
<path d="M1520 312.35 H1521.6 Q1523 312.35 1523 313.75 V326.25 Q1523 327.65 1521.6 327.65 H1520 Z" fill="#ff0000"/>
<rect x="1481" y="327.25" width="40" height="16.1" fill="#6aa84f"/>
<path d="M1520 327.65 H1521.6 Q1523 327.65 1523 329.05 V341.55 Q1523 342.95 1521.6 342.95 H1520 Z" fill="#6aa84f"/>
<rect x="1481" y="342.65" width="40" height="16.1" fill="#4caf50"/>
<path d="M1520 343.05 H1521.6 Q1523 343.05 1523 344.45 V356.95 Q1523 358.35 1521.6 358.35 H1520 Z" fill="#4caf50"/>
<rect x="1481" y="357.95" width="40" height="16.1" fill="#6aa84f"/>
<path d="M1520 358.35 H1521.6 Q1523 358.35 1523 359.75 V372.25 Q1523 373.65 1521.6 373.65 H1520 Z" fill="#6aa84f"/>
<rect x="1481" y="373.25" width="40" height="16.1" fill="#6aa84f"/>
<path d="M1520 373.65 H1521.6 Q1523 373.65 1523 375.05 V387.55 Q1523 388.95 1521.6 388.95 H1520 Z" fill="#6aa84f"/>
<rect x="1481" y="388.55" width="40" height="16.1" fill="#38761d"/>
<path d="M1520 388.95 H1521.6 Q1523 388.95 1523 390.35 V402.85 Q1523 404.25 1521.6 404.25 H1520 Z" fill="#38761d"/>
<rect x="1481" y="403.85" width="40" height="16.1" fill="#6aa84f"/>
<path d="M1520 404.25 H1521.6 Q1523 404.25 1523 405.65 V418.15 Q1523 419.55 1521.6 419.55 H1520 Z" fill="#6aa84f"/>
<rect x="1481" y="419.25" width="40" height="16.1" fill="#38761d"/>
<path d="M1520 419.65 H1521.6 Q1523 419.65 1523 421.05 V433.55 Q1523 434.95 1521.6 434.95 H1520 Z" fill="#38761d"/>
<rect x="1481" y="434.45" width="40" height="16.1" fill="#38761d"/>
<path d="M1520 434.85 H1521.6 Q1523 434.85 1523 436.25 V448.75 Q1523 450.15 1521.6 450.15 H1520 Z" fill="#38761d"/>
<rect x="1481" y="449.65" width="40" height="16.1" fill="#ff00ff"/>
<path d="M1520 450.05 H1521.6 Q1523 450.05 1523 451.45 V463.95 Q1523 465.35 1521.6 465.35 H1520 Z" fill="#ff00ff"/>
<rect x="1481" y="464.95" width="40" height="16.1" fill="#38761d"/>
<path d="M1520 465.35 H1521.6 Q1523 465.35 1523 466.75 V479.25 Q1523 480.65 1521.6 480.65 H1520 Z" fill="#38761d"/>
<rect x="1481" y="480.25" width="40" height="16.1" fill="#38761d"/>
<path d="M1520 480.65 H1521.6 Q1523 480.65 1523 482.05 V494.55 Q1523 495.95 1521.6 495.95 H1520 Z" fill="#38761d"/>
<rect x="1481" y="495.55" width="40" height="16.1" fill="#38761d"/>
<path d="M1520 495.95 H1521.6 Q1523 495.95 1523 497.35 V509.85 Q1523 511.25 1521.6 511.25 H1520 Z" fill="#38761d"/>
<rect x="1481" y="510.75" width="40" height="16.1" fill="#ff0000"/>
<path d="M1520 511.15 H1521.6 Q1523 511.15 1523 512.55 V525.05 Q1523 526.45 1521.6 526.45 H1520 Z" fill="#ff0000"/>
<rect x="1481" y="525.95" width="40" height="16.1" fill="#38761d"/>
<path d="M1520 526.35 H1521.6 Q1523 526.35 1523 527.75 V540.25 Q1523 541.65 1521.6 541.65 H1520 Z" fill="#38761d"/>
<line x1="1481" y1="47.5" x2="1485.6" y2="47.5" stroke="#ffffff" stroke-width="1" opacity="0.85"/>
<text x="1490.2" y="51.5" font-size="11.2" fill="#ffffff" font-weight="bold" textLength="26.3" lengthAdjust="spacingAndGlyphs">71.07</text>
<line x1="1481" y1="62.9" x2="1485.6" y2="62.9" stroke="#ffffff" stroke-width="1" opacity="0.85"/>
<text x="1490.2" y="66.9" font-size="11.2" fill="#ffffff" font-weight="bold" textLength="26.3" lengthAdjust="spacingAndGlyphs">69.93</text>
<line x1="1481" y1="78.2" x2="1485.6" y2="78.2" stroke="#ffffff" stroke-width="1" opacity="0.85"/>
<text x="1490.2" y="82.2" font-size="11.2" fill="#ffffff" font-weight="bold" textLength="26.3" lengthAdjust="spacingAndGlyphs">69.51</text>
<line x1="1481" y1="93.5" x2="1485.6" y2="93.5" stroke="#ffffff" stroke-width="1" opacity="0.85"/>
<text x="1490.2" y="97.5" font-size="11.2" fill="#ffffff" font-weight="bold" textLength="26.3" lengthAdjust="spacingAndGlyphs">69.08</text>
<line x1="1481" y1="108.8" x2="1485.6" y2="108.8" stroke="#ffffff" stroke-width="1" opacity="0.85"/>
<text x="1490.2" y="112.8" font-size="11.2" fill="#ffffff" font-weight="bold" textLength="26.3" lengthAdjust="spacingAndGlyphs">68.41</text>
<line x1="1481" y1="124.1" x2="1485.6" y2="124.1" stroke="#ffffff" stroke-width="1" opacity="0.85"/>
<text x="1490.2" y="128.1" font-size="11.2" fill="#ffffff" font-weight="bold" textLength="26.3" lengthAdjust="spacingAndGlyphs">67.78</text>
<line x1="1481" y1="139.4" x2="1485.6" y2="139.4" stroke="#ffffff" stroke-width="1" opacity="0.85"/>
<text x="1490.2" y="143.4" font-size="11.2" fill="#ffffff" font-weight="bold" textLength="26.3" lengthAdjust="spacingAndGlyphs">67.63</text>
<line x1="1481" y1="154.7" x2="1485.6" y2="154.7" stroke="#ffffff" stroke-width="1" opacity="0.85"/>
<text x="1490.2" y="158.7" font-size="11.2" fill="#ffffff" font-weight="bold" textLength="26.3" lengthAdjust="spacingAndGlyphs">67.21</text>
<line x1="1481" y1="198.1" x2="1485.6" y2="198.1" stroke="#ffffff" stroke-width="1" opacity="0.85"/>
<text x="1490.2" y="202.1" font-size="11.2" fill="#ffffff" font-weight="bold" textLength="26.3" lengthAdjust="spacingAndGlyphs">66.64</text>
<line x1="1481" y1="213.2" x2="1485.6" y2="213.2" stroke="#ffffff" stroke-width="1" opacity="0.85"/>
<text x="1490.2" y="217.2" font-size="11.2" fill="#ffffff" font-weight="bold" textLength="26.3" lengthAdjust="spacingAndGlyphs">65.88</text>
<line x1="1481" y1="228.4" x2="1485.6" y2="228.4" stroke="#ffffff" stroke-width="1" opacity="0.85"/>
<text x="1490.2" y="232.4" font-size="11.2" fill="#ffffff" font-weight="bold" textLength="26.3" lengthAdjust="spacingAndGlyphs">65.74</text>
<line x1="1481" y1="243.7" x2="1485.6" y2="243.7" stroke="#ffffff" stroke-width="1" opacity="0.85"/>
<text x="1490.2" y="247.7" font-size="11.2" fill="#ffffff" font-weight="bold" textLength="26.3" lengthAdjust="spacingAndGlyphs">65.36</text>
<line x1="1481" y1="259.1" x2="1485.6" y2="259.1" stroke="#ffffff" stroke-width="1" opacity="0.85"/>
<text x="1490.2" y="263.1" font-size="11.2" fill="#ffffff" font-weight="bold" textLength="26.3" lengthAdjust="spacingAndGlyphs">64.88</text>
<line x1="1481" y1="274.4" x2="1485.6" y2="274.4" stroke="#ffffff" stroke-width="1" opacity="0.85"/>
<text x="1490.2" y="278.4" font-size="11.2" fill="#ffffff" font-weight="bold" textLength="26.3" lengthAdjust="spacingAndGlyphs">64.85</text>
<line x1="1481" y1="289.7" x2="1485.6" y2="289.7" stroke="#ffffff" stroke-width="1" opacity="0.85"/>
<text x="1490.2" y="293.7" font-size="11.2" fill="#ffffff" font-weight="bold" textLength="26.3" lengthAdjust="spacingAndGlyphs">64.68</text>
<line x1="1481" y1="304.9" x2="1485.6" y2="304.9" stroke="#ffffff" stroke-width="1" opacity="0.85"/>
<text x="1490.2" y="308.9" font-size="11.2" fill="#ffffff" font-weight="bold" textLength="26.3" lengthAdjust="spacingAndGlyphs">64.37</text>
<line x1="1481" y1="320.1" x2="1485.6" y2="320.1" stroke="#ffffff" stroke-width="1" opacity="0.85"/>
<text x="1490.2" y="324.1" font-size="11.2" fill="#ffffff" font-weight="bold" textLength="26.3" lengthAdjust="spacingAndGlyphs">64.06</text>
<line x1="1481" y1="335.4" x2="1485.6" y2="335.4" stroke="#ffffff" stroke-width="1" opacity="0.85"/>
<text x="1490.2" y="339.4" font-size="11.2" fill="#ffffff" font-weight="bold" textLength="26.3" lengthAdjust="spacingAndGlyphs">63.95</text>
<line x1="1481" y1="350.8" x2="1485.6" y2="350.8" stroke="#ffffff" stroke-width="1" opacity="0.85"/>
<text x="1490.2" y="354.8" font-size="11.2" fill="#ffffff" font-weight="bold" textLength="26.3" lengthAdjust="spacingAndGlyphs">63.89</text>
<line x1="1481" y1="366.1" x2="1485.6" y2="366.1" stroke="#ffffff" stroke-width="1" opacity="0.85"/>
<text x="1490.2" y="370.1" font-size="11.2" fill="#ffffff" font-weight="bold" textLength="26.3" lengthAdjust="spacingAndGlyphs">63.67</text>
<line x1="1481" y1="381.4" x2="1485.6" y2="381.4" stroke="#ffffff" stroke-width="1" opacity="0.85"/>
<text x="1490.2" y="385.4" font-size="11.2" fill="#ffffff" font-weight="bold" textLength="26.3" lengthAdjust="spacingAndGlyphs">63.10</text>
<line x1="1481" y1="396.7" x2="1485.6" y2="396.7" stroke="#ffffff" stroke-width="1" opacity="0.85"/>
<text x="1490.2" y="400.7" font-size="11.2" fill="#ffffff" font-weight="bold" textLength="26.3" lengthAdjust="spacingAndGlyphs">62.97</text>
<line x1="1481" y1="412" x2="1485.6" y2="412" stroke="#ffffff" stroke-width="1" opacity="0.85"/>
<text x="1490.2" y="416" font-size="11.2" fill="#ffffff" font-weight="bold" textLength="26.3" lengthAdjust="spacingAndGlyphs">62.48</text>
<line x1="1481" y1="427.4" x2="1485.6" y2="427.4" stroke="#ffffff" stroke-width="1" opacity="0.85"/>
<text x="1490.2" y="431.4" font-size="11.2" fill="#ffffff" font-weight="bold" textLength="26.3" lengthAdjust="spacingAndGlyphs">61.54</text>
<line x1="1481" y1="442.6" x2="1485.6" y2="442.6" stroke="#ffffff" stroke-width="1" opacity="0.85"/>
<text x="1490.2" y="446.6" font-size="11.2" fill="#ffffff" font-weight="bold" textLength="26.3" lengthAdjust="spacingAndGlyphs">61.18</text>
<line x1="1481" y1="457.8" x2="1485.6" y2="457.8" stroke="#ffffff" stroke-width="1" opacity="0.85"/>
<text x="1490.2" y="461.8" font-size="11.2" fill="#ffffff" font-weight="bold" textLength="26.3" lengthAdjust="spacingAndGlyphs">61.14</text>
<line x1="1481" y1="473.1" x2="1485.6" y2="473.1" stroke="#ffffff" stroke-width="1" opacity="0.85"/>
<text x="1490.2" y="477.1" font-size="11.2" fill="#ffffff" font-weight="bold" textLength="26.3" lengthAdjust="spacingAndGlyphs">60.38</text>
<line x1="1481" y1="488.4" x2="1485.6" y2="488.4" stroke="#ffffff" stroke-width="1" opacity="0.85"/>
<text x="1490.2" y="492.4" font-size="11.2" fill="#ffffff" font-weight="bold" textLength="26.3" lengthAdjust="spacingAndGlyphs">59.86</text>
<line x1="1481" y1="503.7" x2="1485.6" y2="503.7" stroke="#ffffff" stroke-width="1" opacity="0.85"/>
<text x="1490.2" y="507.7" font-size="11.2" fill="#ffffff" font-weight="bold" textLength="26.3" lengthAdjust="spacingAndGlyphs">59.53</text>
<line x1="1481" y1="518.9" x2="1485.6" y2="518.9" stroke="#ffffff" stroke-width="1" opacity="0.85"/>
<text x="1490.2" y="522.9" font-size="11.2" fill="#ffffff" font-weight="bold" textLength="26.3" lengthAdjust="spacingAndGlyphs">59.23</text>
<line x1="1481" y1="534.1" x2="1485.6" y2="534.1" stroke="#ffffff" stroke-width="1" opacity="0.85"/>
<text x="1490.2" y="538.1" font-size="11.2" fill="#ffffff" font-weight="bold" textLength="26.3" lengthAdjust="spacingAndGlyphs">59.10</text>
<path d="M1481 162 H1536 Q1538 162 1538 164 V188 Q1538 190 1536 190 H1481 Z" fill="#ef5350"/>
<line x1="1481" y1="170.1" x2="1485.6" y2="170.1" stroke="#ffffff" stroke-width="1"/>
<text x="1490.2" y="174.1" font-size="11.2" fill="#ffffff" font-weight="bold" textLength="26.3" lengthAdjust="spacingAndGlyphs">66.71</text>
<text x="1490.8" y="186.4" font-size="11.2" fill="#fbdfde" font-weight="bold" textLength="41.6" lengthAdjust="spacingAndGlyphs">16:09:27</text>
</g>
<rect x="1460" y="440" width="19" height="19" rx="2" fill="#131722"/>
<circle cx="1469.5" cy="449.5" r="6.9" fill="none" stroke="#b9bcc6" stroke-width="1.3"/>
<path d="M1466 449.5 H1473 M1469.5 446 V453" stroke="#ffffff" stroke-width="1.1" fill="none"/>
<path d="M1481 440.2 H1521.5 Q1523 440.2 1523 441.7 V457.2 Q1523 458.7 1521.5 458.7 H1481 Z" fill="#131722"/>
<line x1="1481" y1="449.6" x2="1485.6" y2="449.6" stroke="#ffffff" stroke-width="1"/>
<text x="1490.2" y="453.7" font-size="11.2" fill="#ffffff" font-weight="bold" textLength="26.3" lengthAdjust="spacingAndGlyphs">51.08</text>
<line x1="1482" y1="533.5" x2="1486" y2="533.5" stroke="#4a4e5a" stroke-width="1"/>
<text x="1490.6" y="537.6" font-size="11.2" fill="#5f626d" textLength="26.6" lengthAdjust="spacingAndGlyphs">90.00</text>
<line x1="1482" y1="565.5" x2="1486" y2="565.5" stroke="#4a4e5a" stroke-width="1"/>
<text x="1490.6" y="569.6" font-size="11.2" fill="#5f626d" textLength="26.6" lengthAdjust="spacingAndGlyphs">80.00</text>
<line x1="1482" y1="598.3" x2="1486" y2="598.3" stroke="#4a4e5a" stroke-width="1"/>
<text x="1490.6" y="602.4" font-size="11.2" fill="#5f626d" textLength="26.6" lengthAdjust="spacingAndGlyphs">70.00</text>
<line x1="1482" y1="631.3" x2="1486" y2="631.3" stroke="#4a4e5a" stroke-width="1"/>
<text x="1490.6" y="635.4" font-size="11.2" fill="#5f626d" textLength="26.6" lengthAdjust="spacingAndGlyphs">60.00</text>
<line x1="1482" y1="664" x2="1486" y2="664" stroke="#4a4e5a" stroke-width="1"/>
<text x="1490.6" y="668.1" font-size="11.2" fill="#5f626d" textLength="26.6" lengthAdjust="spacingAndGlyphs">50.00</text>
<line x1="1482" y1="697" x2="1486" y2="697" stroke="#4a4e5a" stroke-width="1"/>
<text x="1490.6" y="701.1" font-size="11.2" fill="#5f626d" textLength="26.6" lengthAdjust="spacingAndGlyphs">40.00</text>
<line x1="1482" y1="729.5" x2="1486" y2="729.5" stroke="#4a4e5a" stroke-width="1"/>
<text x="1490.6" y="733.6" font-size="11.2" fill="#5f626d" textLength="26.6" lengthAdjust="spacingAndGlyphs">30.00</text>
<line x1="1482" y1="762.5" x2="1486" y2="762.5" stroke="#4a4e5a" stroke-width="1"/>
<text x="1490.6" y="766.6" font-size="11.2" fill="#5f626d" textLength="26.6" lengthAdjust="spacingAndGlyphs">20.00</text>
<line x1="0" y1="531.5" x2="1542" y2="531.5" stroke="#4a4e5a" stroke-width="1"/>
<rect x="0" y="768" width="1481" height="24.5" fill="#ffffff"/>
<line x1="0" y1="767.5" x2="1542" y2="767.5" stroke="#4a4e5a" stroke-width="1"/>
<line x1="0" y1="792.5" x2="1542" y2="792.5" stroke="#e0e3eb" stroke-width="1"/>
<line x1="15.5" y1="768" x2="15.5" y2="771.3" stroke="#4a4e5a" stroke-width="1"/>
<text x="8.75" y="783.8" font-size="12" fill="#6a6d78" textLength="11.7" lengthAdjust="spacingAndGlyphs">20</text>
<line x1="131.5" y1="768" x2="131.5" y2="771.3" stroke="#4a4e5a" stroke-width="1"/>
<text x="121.8" y="783.8" font-size="12" fill="#787b86" textLength="18.2" lengthAdjust="spacingAndGlyphs">Ноя</text>
<line x1="260.5" y1="768" x2="260.5" y2="771.3" stroke="#4a4e5a" stroke-width="1"/>
<text x="255.1" y="783.8" font-size="12" fill="#6a6d78" textLength="10.6" lengthAdjust="spacingAndGlyphs">16</text>
<line x1="402.5" y1="768" x2="402.5" y2="771.3" stroke="#4a4e5a" stroke-width="1"/>
<text x="392.75" y="783.8" font-size="12" fill="#787b86" textLength="18.5" lengthAdjust="spacingAndGlyphs">Дек</text>
<line x1="519.5" y1="768" x2="519.5" y2="771.3" stroke="#4a4e5a" stroke-width="1"/>
<text x="513.1" y="783.8" font-size="12" fill="#6a6d78" textLength="11.4" lengthAdjust="spacingAndGlyphs">14</text>
<line x1="596.5" y1="768" x2="596.5" y2="771.3" stroke="#4a4e5a" stroke-width="1"/>
<text x="590.65" y="783.8" font-size="12" fill="#6a6d78" textLength="11.5" lengthAdjust="spacingAndGlyphs">22</text>
<line x1="686.5" y1="768" x2="686.5" y2="771.3" stroke="#4a4e5a" stroke-width="1"/>
<text x="674.3" y="783.8" font-size="12" fill="#50535e" font-weight="bold" textLength="24" lengthAdjust="spacingAndGlyphs">2021</text>
<line x1="816.5" y1="768" x2="816.5" y2="771.3" stroke="#4a4e5a" stroke-width="1"/>
<text x="810.5" y="783.8" font-size="12" fill="#6a6d78" textLength="11" lengthAdjust="spacingAndGlyphs">18</text>
<line x1="945.5" y1="768" x2="945.5" y2="771.3" stroke="#4a4e5a" stroke-width="1"/>
<text x="935.5" y="783.8" font-size="12" fill="#787b86" textLength="19" lengthAdjust="spacingAndGlyphs">Фев</text>
<line x1="1074.5" y1="768" x2="1074.5" y2="771.3" stroke="#4a4e5a" stroke-width="1"/>
<text x="1069.1" y="783.8" font-size="12" fill="#6a6d78" textLength="10.4" lengthAdjust="spacingAndGlyphs">15</text>
<line x1="1204.5" y1="768" x2="1204.5" y2="771.3" stroke="#4a4e5a" stroke-width="1"/>
<text x="1193.7" y="783.8" font-size="12" fill="#b2b5be" textLength="20" lengthAdjust="spacingAndGlyphs">Мар</text>
<line x1="1332.5" y1="768" x2="1332.5" y2="771.3" stroke="#4a4e5a" stroke-width="1"/>
<text x="1327.4" y="783.8" font-size="12" fill="#6a6d78" textLength="10.4" lengthAdjust="spacingAndGlyphs">15</text>
<line x1="1410.5" y1="768" x2="1410.5" y2="771.3" stroke="#4a4e5a" stroke-width="1"/>
<text x="1404.8" y="783.8" font-size="12" fill="#6a6d78" textLength="11.4" lengthAdjust="spacingAndGlyphs">23</text>
<path d="M1248 767.5 H1314.2 V786 Q1314.2 788 1312.2 788 H1250 Q1248 788 1248 786 Z" fill="#131722"/>
<line x1="1281.5" y1="768" x2="1281.5" y2="771.5" stroke="#ffffff" stroke-width="1"/>
<text x="1255.2" y="784.2" font-size="12" fill="#ffffff" font-weight="bold" textLength="50.4" lengthAdjust="spacingAndGlyphs">09 Мар '21</text>
<g transform="translate(1511.8 779.7)" fill="none" stroke="#131722" stroke-width="1.2"><circle r="4.3"/><path d="M0 -6.8V-5M0 6.8V5M-6.8 0H-5M6.8 0H5M-4.8 -4.8L-3.6 -3.6M4.8 4.8L3.6 3.6M-4.8 4.8L-3.6 3.6M4.8 -4.8L3.6 -3.6"/></g>
<rect x="0" y="0" width="1542" height="10" fill="#ffffff"/>
<line x1="0" y1="10.6" x2="1542" y2="10.6" stroke="#e0e3eb" stroke-width="1.4"/>
<line x1="86.5" y1="0" x2="86.5" y2="10" stroke="#e0e3eb" stroke-width="1"/>
<line x1="156.5" y1="0" x2="156.5" y2="10" stroke="#e0e3eb" stroke-width="1"/>
<line x1="251.3" y1="0" x2="251.3" y2="10" stroke="#e0e3eb" stroke-width="1"/>
<line x1="381.4" y1="0" x2="381.4" y2="10" stroke="#e0e3eb" stroke-width="1"/>
<line x1="488.5" y1="0" x2="488.5" y2="10" stroke="#e0e3eb" stroke-width="1"/>
<line x1="584.4" y1="0" x2="584.4" y2="10" stroke="#e0e3eb" stroke-width="1"/>
<line x1="698.4" y1="0" x2="698.4" y2="10" stroke="#e0e3eb" stroke-width="1"/>
<line x1="842.4" y1="0" x2="842.4" y2="10" stroke="#e0e3eb" stroke-width="1"/>
<line x1="898.5" y1="0" x2="898.5" y2="10" stroke="#e0e3eb" stroke-width="1"/>
<line x1="1186.7" y1="0" x2="1186.7" y2="10" stroke="#e0e3eb" stroke-width="1"/>
<line x1="1221.3" y1="0" x2="1221.3" y2="10" stroke="#e0e3eb" stroke-width="1"/>
<line x1="1320.8" y1="0" x2="1320.8" y2="10" stroke="#e0e3eb" stroke-width="1"/>
<line x1="1355.7" y1="0" x2="1355.7" y2="10" stroke="#e0e3eb" stroke-width="1"/>
<line x1="1390.8" y1="0" x2="1390.8" y2="10" stroke="#e0e3eb" stroke-width="1"/>
<rect x="1425.8" y="0" width="116.2" height="9.9" fill="#2196f3"/>
<rect x="1458" y="0" width="1.4" height="1" fill="#ffffff"/>
<rect x="100.2" y="0" width="1" height="0.9" fill="#2a2e39"/>
<rect x="107" y="0" width="1" height="0.9" fill="#2a2e39"/>
<rect x="135" y="0" width="1" height="2.4" fill="#2a2e39"/>
<rect x="196.2" y="0" width="1" height="0.8" fill="#2a2e39"/>
<rect x="263" y="0" width="2.4" height="1" fill="#2a2e39"/>
<rect x="267" y="0" width="2" height="1" fill="#2a2e39"/>
<rect x="272.6" y="0" width="1.4" height="1.2" fill="#2a2e39"/>
<rect x="339.6" y="0" width="1" height="0.8" fill="#2a2e39"/>
<rect x="391.5" y="0" width="15.2" height="0.9" fill="#2a2e39"/>
<rect x="499" y="0" width="2" height="0.8" fill="#2a2e39"/>
<rect x="504" y="0" width="2" height="0.8" fill="#2a2e39"/>
<rect x="509" y="0" width="2" height="0.8" fill="#2a2e39"/>
<rect x="513.6" y="0" width="1.4" height="0.8" fill="#2a2e39"/>
<rect x="597.4" y="0" width="2.4" height="1" fill="#2a2e39"/>
<rect x="606.2" y="0" width="1" height="2.6" fill="#2a2e39"/>
<rect x="755.6" y="0" width="1.2" height="0.9" fill="#2a2e39"/>
<rect x="787.4" y="0" width="1" height="0.8" fill="#2a2e39"/>
<rect x="798.2" y="0" width="1" height="0.8" fill="#2a2e39"/>
<rect x="1232" y="0" width="3" height="0.9" fill="#2a2e39"/>
<rect x="1237" y="0" width="3" height="0.9" fill="#2a2e39"/>
<rect x="1242" y="0" width="3" height="0.9" fill="#2a2e39"/>
<rect x="1254" y="0" width="1" height="0.9" fill="#2a2e39"/>
<rect x="1261" y="0" width="1" height="0.9" fill="#2a2e39"/>
<rect x="1366" y="0" width="4" height="0.8" fill="#2a2e39"/>
<rect x="1374" y="0" width="4" height="0.8" fill="#2a2e39"/>
<rect x="1400" y="0" width="17" height="0.9" fill="#2a2e39"/>
<path d="M167 0 Q173 3.6 179 0" fill="none" stroke="#2a2e39" stroke-width="1.2"/>
<path d="M1196.4 0 V0.6 Q1196.4 1.4 1197.4 1.4 H1212 Q1213 1.4 1213 0.6 V0" fill="#9598a1" stroke="#2a2e39" stroke-width="0.8"/>
<path d="M1333.6 0 L1335.4 1 M1338.4 0 V2.4 M1343.4 0 L1341.6 1" fill="none" stroke="#2a2e39" stroke-width="1"/>
<rect x="0" y="110" width="81" height="18" fill="#ffffff" opacity="0.72"/>
<rect x="0" y="132" width="81" height="18" fill="#ffffff" opacity="0.72"/>
<rect x="0" y="153" width="66" height="18" fill="#ffffff" opacity="0.72"/>
<rect x="0" y="175" width="88" height="18" fill="#ffffff" opacity="0.72"/>
<rect x="0" y="196" width="120" height="18" fill="#ffffff" opacity="0.72"/>
<text x="4.7" y="31.4" font-size="14" fill="#50535e" textLength="238.6" lengthAdjust="spacingAndGlyphs">CFD на нефть марки Brent · 1Д · TVC</text>
<path d="M265.5 17 H275.1 V34 H265.5 A8.5 8.5 0 0 1 265.5 17 Z" fill="#dbf0ed"/>
<path d="M275.1 17 H284.5 A8.5 8.5 0 0 1 284.5 34 H275.1 Z" fill="#facbdc"/>
<circle cx="266.8" cy="25.3" r="3.6" fill="#069685"/>
<g transform="rotate(-8 283.4 25.6)">
<text x="279.2" y="30.6" font-size="14.5" fill="#c2185b" font-weight="bold" textLength="8.6" lengthAdjust="spacingAndGlyphs">≈</text>
</g>
<text x="307.6" y="31.1" font-size="12" fill="#50535e" textLength="28.3" lengthAdjust="spacingAndGlyphs">ОТКР</text>
<text x="337.5" y="31.1" font-size="12" fill="#ef5350" textLength="28.6" lengthAdjust="spacingAndGlyphs">67.97</text>
<text x="372.1" y="31.1" font-size="12" fill="#50535e" textLength="29.2" lengthAdjust="spacingAndGlyphs">МАКС</text>
<text x="402.6" y="31.1" font-size="12" fill="#ef5350" textLength="28.6" lengthAdjust="spacingAndGlyphs">69.30</text>
<text x="436.7" y="31.1" font-size="12" fill="#50535e" textLength="23.4" lengthAdjust="spacingAndGlyphs">МИН</text>
<text x="462" y="31.1" font-size="12" fill="#ef5350" textLength="28.6" lengthAdjust="spacingAndGlyphs">67.14</text>
<text x="496" y="31.1" font-size="12" fill="#50535e" textLength="26" lengthAdjust="spacingAndGlyphs">ЗАКР</text>
<text x="523.3" y="31.1" font-size="12" fill="#ef5350" textLength="28.6" lengthAdjust="spacingAndGlyphs">67.16</text>
<text x="558.2" y="31.1" font-size="12" fill="#ef5350" textLength="76.2" lengthAdjust="spacingAndGlyphs">−0.80 (−1.18%)</text>
<rect x="4.8" y="40.9" width="41.4" height="19.4" rx="3.5" fill="#ffffff" stroke="#ef5350" stroke-width="1"/>
<text x="11" y="55.2" font-size="13" fill="#ef5350" textLength="28.4" lengthAdjust="spacingAndGlyphs">66.71</text>
<text x="54.2" y="53.8" font-size="9.5" fill="#50535e">4</text>
<rect x="67.7" y="40.9" width="41.6" height="19.4" rx="3.5" fill="#ffffff" stroke="#2196f3" stroke-width="1"/>
<text x="73.9" y="55.2" font-size="13" fill="#2196f3" textLength="28.6" lengthAdjust="spacingAndGlyphs">66.75</text>
<text x="4.7" y="80" font-size="12" fill="#50535e" textLength="77" lengthAdjust="spacingAndGlyphs">MA 200 close 0</text>
<text x="89.2" y="80" font-size="12" fill="#ffa726" textLength="28.3" lengthAdjust="spacingAndGlyphs">47.52</text>
<text x="4.7" y="101.6" font-size="12" fill="#50535e" textLength="35.3" lengthAdjust="spacingAndGlyphs">Объём</text>
<circle cx="62" cy="97.3" r="8" fill="#fde7e7"/>
<path d="M62 93 V98.4" stroke="#f04848" stroke-width="1.9" stroke-linecap="butt"/>
<circle cx="62" cy="100.8" r="1.15" fill="#f04848"/>
<text x="4.7" y="123.4" font-size="12" fill="#50535e" textLength="35.3" lengthAdjust="spacingAndGlyphs">Объём</text>
<circle cx="62" cy="119.1" r="8" fill="#fde7e7"/>
<path d="M62 114.8 V120.2" stroke="#f04848" stroke-width="1.9" stroke-linecap="butt"/>
<circle cx="62" cy="122.6" r="1.15" fill="#f04848"/>
<text x="4.7" y="145.2" font-size="12" fill="#50535e" textLength="35.3" lengthAdjust="spacingAndGlyphs">Объём</text>
<circle cx="62" cy="141" r="8" fill="#fde7e7"/>
<path d="M62 136.7 V142.1" stroke="#f04848" stroke-width="1.9" stroke-linecap="butt"/>
<circle cx="62" cy="144.5" r="1.15" fill="#f04848"/>
<text x="4.7" y="166.5" font-size="12" fill="#b2b5be" textLength="35.3" lengthAdjust="spacingAndGlyphs">Объём</text>
<g transform="translate(56.3 162)" fill="none" stroke="#2a2e39" stroke-width="0.9"><path d="M-6.9 0.2 C-4.4 -5.1 4.4 -5.1 6.9 0.2 C4.4 5.4 -4.4 5.4 -6.9 0.2 Z"/><circle cy="0.2" r="2.1"/><path d="M-4.9 5.6 L4.9 -5.4"/></g>
<text x="4.7" y="188.2" font-size="12" fill="#b2b5be" textLength="55.3" lengthAdjust="spacingAndGlyphs">NYSE:SPCE</text>
<g transform="translate(76.6 183.8)" fill="none" stroke="#2a2e39" stroke-width="0.9"><path d="M-6.9 0.2 C-4.4 -5.1 4.4 -5.1 6.9 0.2 C4.4 5.4 -4.4 5.4 -6.9 0.2 Z"/><circle cy="0.2" r="2.1"/><path d="M-4.9 5.6 L4.9 -5.4"/></g>
<text x="4.7" y="209.2" font-size="12" fill="#50535e" textLength="77" lengthAdjust="spacingAndGlyphs">EMA 55 close 0</text>
<text x="89.2" y="209.2" font-size="12" fill="#2196f3" textLength="28.6" lengthAdjust="spacingAndGlyphs">59.26</text>
<rect x="4.8" y="219" width="25.4" height="17.4" rx="3" fill="#ffffff" stroke="#d1d4dc" stroke-width="1"/>
<path d="M14.4 229.4 L17.4 226.4 L20.4 229.4" fill="none" stroke="#131722" stroke-width="1.3"/>
<rect x="1434.6" y="16.6" width="17.6" height="18.8" rx="3.5" fill="#ffffff" stroke="#d9dce6" stroke-width="1"/>
<path d="M1443.5 21.5 V30 M1440.2 26.8 L1443.5 30.2 L1446.8 26.8" fill="none" stroke="#131722" stroke-width="1.2"/>
<rect x="1457.6" y="16.6" width="17.6" height="18.8" rx="3.5" fill="#ffffff" stroke="#d9dce6" stroke-width="1"/>
<path d="M1462 24 V23 Q1462 21 1464 21 H1469 Q1471 21 1471 23 V24 M1462 27.5 V28.5 Q1462 30.5 1464 30.5 H1469 Q1471 30.5 1471 28.5 V27.5" fill="none" stroke="#131722" stroke-width="1.2"/>
<rect x="1498.5" y="16.6" width="26.8" height="15.8" rx="3.5" fill="#ffffff" stroke="#d9dce6" stroke-width="1"/>
<text x="1502.6" y="28.3" font-size="11" fill="#50535e" textLength="18.6" lengthAdjust="spacingAndGlyphs">USD</text>
<rect x="0" y="793" width="1542" height="35" fill="#ffffff"/>
<text x="11.7" y="815.4" font-size="13.5" fill="#131722" textLength="13.5" lengthAdjust="spacingAndGlyphs">1д</text>
<text x="37.6" y="815.4" font-size="13.5" fill="#131722" textLength="13.5" lengthAdjust="spacingAndGlyphs">5д</text>
<text x="64.3" y="815.4" font-size="13.5" fill="#131722" textLength="27.8" lengthAdjust="spacingAndGlyphs">1мес</text>
<text x="105" y="815.4" font-size="13.5" fill="#131722" textLength="28" lengthAdjust="spacingAndGlyphs">3мес</text>
<text x="145.8" y="815.4" font-size="13.5" fill="#131722" textLength="28" lengthAdjust="spacingAndGlyphs">6мес</text>
<text x="186.8" y="815.4" font-size="13.5" fill="#131722" textLength="22" lengthAdjust="spacingAndGlyphs">YTD</text>
<text x="222.6" y="815.4" font-size="13.5" fill="#131722" textLength="10.9" lengthAdjust="spacingAndGlyphs">1г</text>
<text x="246.4" y="815.4" font-size="13.5" fill="#131722" textLength="13" lengthAdjust="spacingAndGlyphs">5л</text>
<text x="272.9" y="815.4" font-size="13.5" fill="#131722" textLength="19.7" lengthAdjust="spacingAndGlyphs">Все</text>
<line x1="307.6" y1="800.5" x2="307.6" y2="819.7" stroke="#e0e3eb" stroke-width="1"/>
<g transform="translate(322.2 803.3)" fill="none" stroke="#2a2e39" stroke-width="1.05"><path d="M6 13.5 H14 Q16 13.5 16 11.5 V3.8 Q16 1.8 14 1.8 H3 Q1 1.8 1 3.8 V6.5"/><path d="M4.5 0 V3.2 M12.5 0 V3.2 M1 5.4 H16"/><path d="M0 10.2 H6.5 M4 7.6 L6.6 10.2 L4 12.8"/></g>
<text x="1321.5" y="815.4" font-size="13.5" fill="#131722" textLength="97.5" lengthAdjust="spacingAndGlyphs">08:50:33 (UTC+3)</text>
<line x1="1434.6" y1="800.5" x2="1434.6" y2="819.7" stroke="#e0e3eb" stroke-width="1"/>
<text x="1449.4" y="815.6" font-size="14" fill="#131722" textLength="12.2" lengthAdjust="spacingAndGlyphs">%</text>
<text x="1474.8" y="815.4" font-size="13.5" fill="#131722" textLength="19.2" lengthAdjust="spacingAndGlyphs">лог</text>
<text x="1506.5" y="815.4" font-size="13.5" fill="#131722" textLength="25.1" lengthAdjust="spacingAndGlyphs">авто</text>
<rect x="0" y="827.5" width="1542" height="4.5" fill="#e0e3eb"/>
<line x1="119" y1="827.5" x2="119" y2="832" stroke="#f0f3fa" stroke-width="1"/>
<line x1="196" y1="827.5" x2="196" y2="832" stroke="#f0f3fa" stroke-width="1"/>
<line x1="308" y1="827.5" x2="308" y2="832" stroke="#f0f3fa" stroke-width="1"/>
</svg>
</body></html>
